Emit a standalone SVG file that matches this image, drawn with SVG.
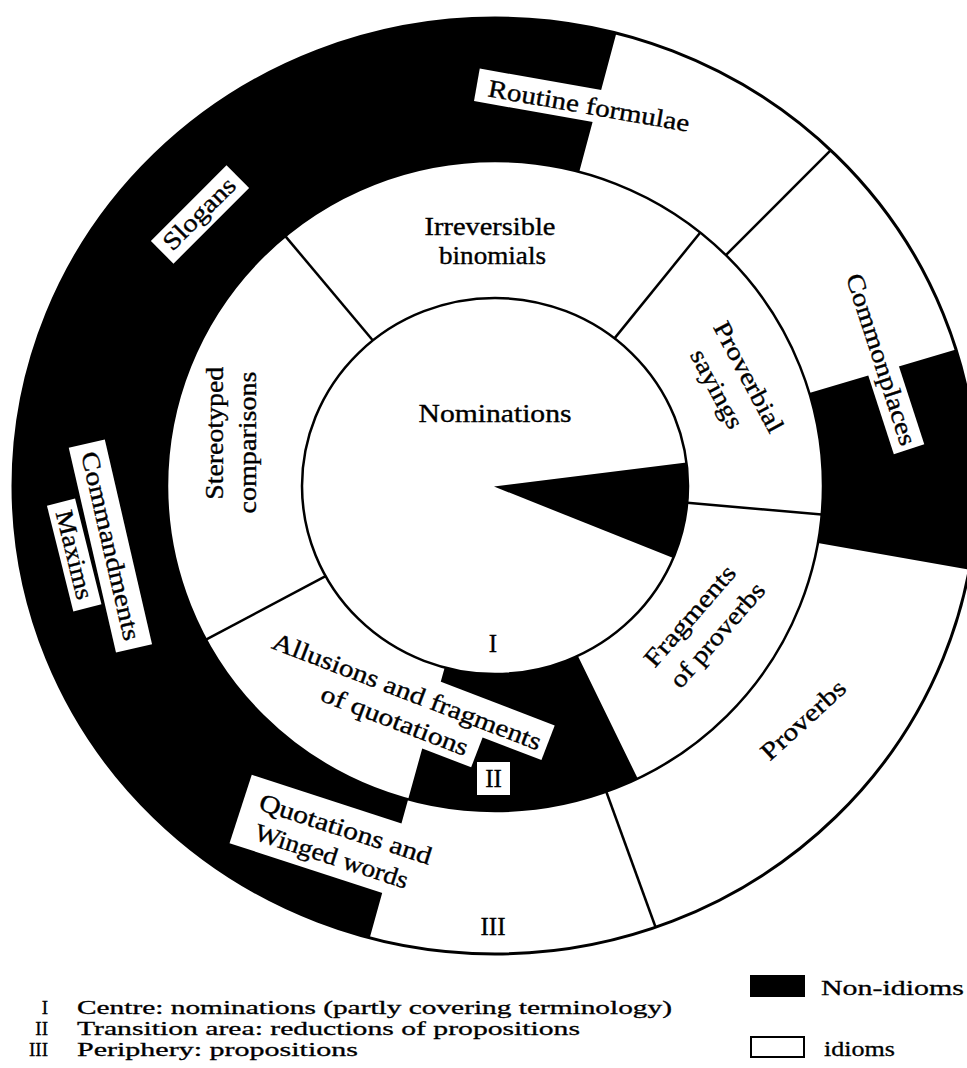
<svg xmlns="http://www.w3.org/2000/svg" width="967" height="1068" viewBox="0 0 967 1068">
<defs>
<style>
.ln{stroke:#000;stroke-width:2.5;fill:none}
.ol{stroke:#000;stroke-width:3;fill:none}
.blk{fill:#000}
.box{fill:#fff}
.t{font-family:"Liberation Serif","Times New Roman",serif;font-size:25px;fill:#000;stroke:#000;stroke-width:0.35;text-anchor:middle}
.lg{font-family:"Liberation Serif","Times New Roman",serif;font-size:19px;fill:#000;stroke:#000;stroke-width:0.3}
.lg2{font-family:"Liberation Serif","Times New Roman",serif;font-size:22px;fill:#000;stroke:#000;stroke-width:0.3}
</style>
</defs>
<rect width="967" height="1068" fill="#fff"/>
<g id="rings">
<ellipse cx="495" cy="486" rx="482" ry="468" fill="#fff"/>
<path class="blk" d="M616.4,33.1 A482,468 0 0 0 13,486 A482,468 0 0 0 369.7,937.9 L408.1,799.4 A328,325 0 0 1 167,486 A328,325 0 0 1 579.2,171.9 Z"/>
<path class="blk" d="M956,349.5 A482,468 0 0 1 969.3,569.6 L817.9,542.9 A328,325 0 0 0 809.3,392.9 Z"/>
<path class="blk" d="M577.8,655.8 L637.7,778.6 A328,325 0 0 1 408.1,799.4 L444.7,667.5 A193,188 0 0 0 577.8,655.8 Z"/>
<ellipse class="ln" cx="495" cy="486" rx="328" ry="325"/>
<ellipse cx="495" cy="486" rx="193" ry="188" fill="#fff" stroke="#000" stroke-width="2.5"/>
<path class="blk" d="M494,486.5 L686.5,462.5 A193,188 0 0 1 673.3,558 Z"/>
<ellipse class="ol" cx="495" cy="486" rx="482" ry="468"/>
</g>
<g id="connectors">
<line class="ln" x1="372.9" y1="340.5" x2="285.3" y2="236.1"/>
<line class="ln" x1="614.5" y1="338.4" x2="700.3" y2="232.5"/>
<line class="ln" x1="687.3" y1="502.8" x2="821.7" y2="514.6"/>
<line class="ln" x1="325.6" y1="576.1" x2="206" y2="639.7"/>
<line class="ln" x1="725.9" y1="255.1" x2="830.8" y2="150.2"/>
<line class="ln" x1="606.3" y1="791.7" x2="655.6" y2="927.3"/>
</g>
<g id="node-routine-formulae" transform="translate(587.5,114) rotate(10)">
<rect class="box" x="-114" y="-26" width="224" height="33"/>
<text class="t" x="0" y="0" textLength="204" lengthAdjust="spacingAndGlyphs">Routine formulae</text>
</g>
<g id="node-slogans" transform="translate(200,214.5) rotate(-45)">
<rect class="box" x="-53.5" y="-16" width="107" height="32"/>
<text class="t" x="0" y="7" textLength="92" lengthAdjust="spacingAndGlyphs">Slogans</text>
</g>
<g id="node-commandments" transform="translate(110.4,546) rotate(77)">
<rect class="box" x="-105" y="-18.5" width="210" height="37"/>
<text class="t" x="0" y="8" textLength="193" lengthAdjust="spacingAndGlyphs">Commandments</text>
</g>
<g id="node-maxims" transform="translate(74.2,555) rotate(76)">
<rect class="box" x="-54.5" y="-14.5" width="109" height="29"/>
<text class="t" x="0" y="8" textLength="91" lengthAdjust="spacingAndGlyphs">Maxims</text>
</g>
<g id="node-stereotyped-comparisons">
<text class="t" transform="translate(223,433.3) rotate(-90)" textLength="133" lengthAdjust="spacingAndGlyphs">Stereotyped</text>
<text class="t" transform="translate(256,442.5) rotate(-90)" textLength="142" lengthAdjust="spacingAndGlyphs">comparisons</text>
</g>
<g id="node-irreversible-binomials">
<text class="t" x="490" y="235" textLength="131" lengthAdjust="spacingAndGlyphs">Irreversible</text>
<text class="t" x="492.5" y="264" textLength="107" lengthAdjust="spacingAndGlyphs">binomials</text>
</g>
<g id="node-nominations">
<text class="t" x="495" y="422" textLength="153" lengthAdjust="spacingAndGlyphs">Nominations</text>
</g>
<g id="label-I"><text class="t" x="493" y="652">I</text></g>
<g id="node-proverbial-sayings" transform="translate(747.5,377.6) rotate(62)">
<text class="t" x="0" y="7" textLength="122" lengthAdjust="spacingAndGlyphs">Proverbial</text>
<text class="t" x="-4.4" y="40.6" textLength="86" lengthAdjust="spacingAndGlyphs">sayings</text>
</g>
<g id="node-commonplaces" transform="translate(880,359.8) rotate(72)">
<rect class="box" x="-94" y="-16" width="188" height="32"/>
<text class="t" x="0" y="7" textLength="179" lengthAdjust="spacingAndGlyphs">Commonplaces</text>
</g>
<g id="node-fragments-of-proverbs" transform="translate(690.8,616.7) rotate(-49)">
<text class="t" x="0" y="7" textLength="126" lengthAdjust="spacingAndGlyphs">Fragments</text>
<text class="t" x="3.6" y="40.3" textLength="131" lengthAdjust="spacingAndGlyphs">of proverbs</text>
</g>
<g id="node-proverbs" transform="translate(804,720.8) rotate(-42.5)">
<text class="t" x="0" y="7" textLength="106" lengthAdjust="spacingAndGlyphs">Proverbs</text>
</g>
<g id="node-allusions" transform="translate(409,692) rotate(21)">
<rect class="box" x="-152" y="-21" width="300" height="37"/>
<rect class="box" x="-90" y="15" width="175" height="33"/>
<text class="t" x="-2" y="8.5" textLength="286" lengthAdjust="spacingAndGlyphs">Allusions and fragments</text>
<text class="t" x="-3" y="40" textLength="156" lengthAdjust="spacingAndGlyphs">of quotations</text>
</g>
<g id="label-II">
<rect class="box" x="477" y="762" width="33" height="33"/>
<text class="t" x="493.5" y="787">II</text>
</g>
<g id="node-quotations" transform="translate(343,837) rotate(18)">
<rect class="box" x="-106" y="-31" width="206" height="72"/>
<text class="t" x="0" y="0" textLength="180" lengthAdjust="spacingAndGlyphs">Quotations and</text>
<text class="t" x="-5" y="30" textLength="160" lengthAdjust="spacingAndGlyphs">Winged words</text>
</g>
<g id="label-III"><text class="t" x="493" y="935">III</text></g>
<g id="legend">
<text class="lg" x="48" y="1013.5" text-anchor="end">I</text>
<text class="lg" x="77" y="1013.5" textLength="595" lengthAdjust="spacingAndGlyphs">Centre: nominations (partly covering terminology)</text>
<text class="lg" x="48" y="1034.5" text-anchor="end">II</text>
<text class="lg" x="77" y="1034.5" textLength="503" lengthAdjust="spacingAndGlyphs">Transition area: reductions of propositions</text>
<text class="lg" x="48" y="1055.5" text-anchor="end">III</text>
<text class="lg" x="77" y="1055.5" textLength="281" lengthAdjust="spacingAndGlyphs">Periphery: propositions</text>
<rect x="750" y="975" width="55" height="22" fill="#000"/>
<text class="lg2" x="821" y="995" textLength="143" lengthAdjust="spacingAndGlyphs">Non-idioms</text>
<rect x="751" y="1037" width="53" height="20" fill="#fff" stroke="#000" stroke-width="2"/>
<text class="lg2" x="824" y="1056" textLength="71" lengthAdjust="spacingAndGlyphs">idioms</text>
</g>
</svg>
